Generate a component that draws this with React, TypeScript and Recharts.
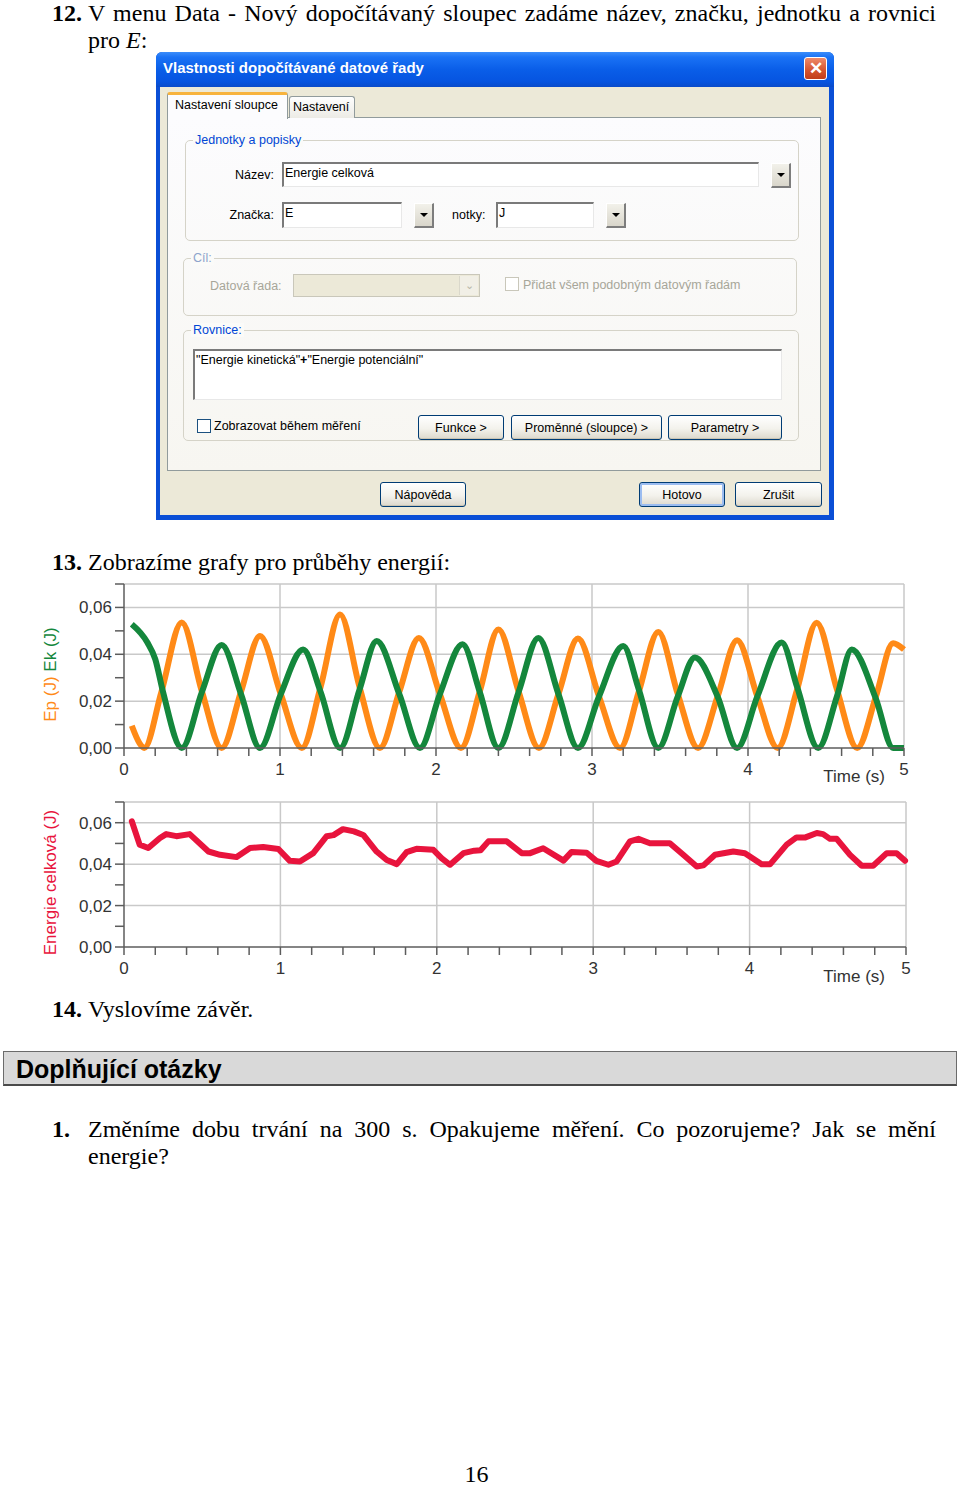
import React from 'react';
import { LineChart, Line, XAxis, YAxis, CartesianGrid } from 'recharts';

// ---------- Data ----------
const EP_TIME = [0.05,0.10,0.13,0.24,0.37,0.50,0.626,0.75,0.872,1.005,1.14,1.26,1.385,1.51,1.64,1.765,1.89,2.025,2.16,2.28,2.40,2.53,2.66,2.785,2.91,3.045,3.18,3.30,3.425,3.55,3.68,3.805,3.93,4.06,4.19,4.315,4.44,4.57,4.70,4.82,4.93,5.0];
const EP_VALUES = [0.0095,0.002,0.0,0.024,0.0536,0.024,0.0,0.024,0.0478,0.023,0.0,0.026,0.057,0.026,0.0,0.024,0.047,0.023,0.0,0.024,0.0506,0.024,0.0,0.023,0.0467,0.022,0.0,0.024,0.0495,0.023,0.0,0.022,0.046,0.022,0.0,0.025,0.0535,0.025,0.0,0.022,0.0447,0.042];

const EK_TIME = [0.05,0.15,0.20,0.25,0.37,0.50,0.626,0.75,0.872,1.005,1.148,1.26,1.385,1.51,1.62,1.765,1.897,2.025,2.17,2.28,2.40,2.53,2.656,2.785,2.91,3.045,3.20,3.30,3.425,3.55,3.66,3.805,3.93,4.06,4.216,4.315,4.45,4.57,4.665,4.82,4.93,5.0];
const EK_VALUES = [0.0528,0.045,0.038,0.024,0.0,0.024,0.044,0.023,0.0,0.023,0.042,0.024,0.0,0.025,0.0457,0.023,0.0,0.023,0.0443,0.024,0.0,0.024,0.047,0.023,0.0,0.022,0.0435,0.025,0.0,0.022,0.0386,0.022,0.0,0.022,0.045,0.026,0.0,0.022,0.042,0.021,0.0,0.0];

const TOTAL_TIME = [0.05,0.10,0.155,0.23,0.27,0.335,0.42,0.54,0.614,0.72,0.806,0.89,0.987,1.06,1.125,1.21,1.296,1.34,1.40,1.47,1.53,1.615,1.68,1.744,1.807,1.87,1.978,2.03,2.085,2.17,2.24,2.28,2.33,2.447,2.543,2.597,2.68,2.81,2.862,2.958,3.02,3.097,3.15,3.235,3.289,3.363,3.49,3.576,3.662,3.705,3.779,3.896,3.97,4.077,4.13,4.237,4.30,4.357,4.43,4.47,4.514,4.557,4.642,4.717,4.79,4.877,4.94,4.994];
const TOTAL_VALUES = [0.0607,0.0494,0.0478,0.0526,0.0545,0.0535,0.0545,0.0461,0.0445,0.0434,0.0478,0.0483,0.0473,0.0416,0.0413,0.0453,0.0535,0.054,0.0569,0.0558,0.0541,0.0461,0.042,0.040,0.0458,0.0474,0.0469,0.0429,0.0397,0.0453,0.0465,0.0467,0.051,0.051,0.0453,0.0453,0.0477,0.0417,0.0459,0.0455,0.0416,0.0397,0.0413,0.051,0.0522,0.0501,0.0501,0.0445,0.0389,0.0394,0.0445,0.0461,0.0453,0.0399,0.0399,0.0494,0.0529,0.0529,0.055,0.0545,0.0522,0.0522,0.0445,0.0392,0.0392,0.0453,0.0453,0.0416];

const X_TICKS = [0,0.2,0.4,0.6,0.8,1,1.2,1.4,1.6,1.8,2,2.2,2.4,2.6,2.8,3,3.2,3.4,3.6,3.8,4,4.2,4.4,4.6,4.8,5];
const X_LABELS = ['0','1','2','3','4','5'];
const Y_TICKS = [0,0.01,0.02,0.03,0.04,0.05,0.06,0.07];
const Y_LABELS = ['0,00','0,02','0,04','0,06'];
const GRID_Y = [0.02,0.04,0.06,0.07];
const GRID_X = [1,2,3,4,5];

const toSeries = (ts: number[], vs: number[]) =>
  ts.slice(0, Math.min(ts.length, vs.length)).map((t, i) => ({ t, v: vs[i] }));

const epData = toSeries(EP_TIME, EP_VALUES);
const ekData = toSeries(EK_TIME, EK_VALUES);
const totalData = toSeries(TOTAL_TIME, TOTAL_VALUES);

const ORANGE = '#ff8a17';
const GREEN = '#14873c';
const RED = '#e8143d';
const SANS = '"Liberation Sans", Arial, sans-serif';
const SERIF = '"Liberation Serif", "Times New Roman", serif';

const fmtX = (v: number) => {
  const r = Math.round(v * 1000) / 1000;
  return Number.isInteger(r) ? X_LABELS[r] : '';
};
const fmtY = (v: number) => {
  const k = Math.round(v * 100);
  return k % 2 === 0 && k <= 6 ? Y_LABELS[k / 2] : '';
};

const tickStyle = { fill: '#333', fontSize: 17, fontFamily: SANS };

const timeLabel = (dx: number, dy: number) => (props: any) => {
  const vb = props.viewBox || { x: 124, y: 178, width: 780, height: 30 };
  return (
    <text x={vb.x + vb.width - dx} y={vb.y + dy} textAnchor="end" fill="#333" fontSize={17} fontFamily={SANS}>
      Time (s)
    </text>
  );
};

const yLabel1 = (props: any) => {
  const vb = props.viewBox || { x: 64, y: 14, width: 60, height: 164 };
  const x = vb.x - 8;
  const y = vb.y + vb.height / 2 + 8.5;
  return (
    <text x={x} y={y} transform={`rotate(-90, ${x}, ${y})`} textAnchor="middle" fontSize={17} fontFamily={SANS}>
      <tspan fill={ORANGE}>Ep (J) </tspan>
      <tspan fill={GREEN}>Ek (J)</tspan>
    </text>
  );
};

const yLabel2 = (props: any) => {
  const vb = props.viewBox || { x: 64, y: 12, width: 60, height: 145 };
  const x = vb.x - 8;
  const y = vb.y + vb.height / 2 + 8;
  return (
    <text x={x} y={y} transform={`rotate(-90, ${x}, ${y})`} textAnchor="middle" fontSize={17} fontFamily={SANS} fill={RED}>
      Energie celková (J)
    </text>
  );
};

// ---------- Dialog helpers ----------
const abs = (l: number, t: number, w: number, h: number, extra: any = {}) => ({
  position: 'absolute' as const, left: l, top: t, width: w, height: h, boxSizing: 'border-box' as const, ...extra,
});

const Txt = ({ l, t, children, color = '#000', size = 12.5, right, w, bold }: any) => (
  <div style={{ position: 'absolute', left: l, top: t, width: w, textAlign: right ? 'right' : 'left', fontSize: size, lineHeight: '14px', color, whiteSpace: 'nowrap', fontFamily: SANS, fontWeight: bold ? 'bold' : 'normal' }}>
    {children}
  </div>
);

const Sunken = ({ l, t, w, h, children }: any) => (
  <div style={abs(l, t, w, h, { background: '#fff', borderTop: '2px solid #7a7a7a', borderLeft: '2px solid #7a7a7a', borderBottom: '1px solid #e8e8e8', borderRight: '1px solid #e8e8e8', fontFamily: SANS, fontSize: 12.5, lineHeight: '18px', paddingLeft: 1, whiteSpace: 'nowrap', overflow: 'hidden' })}>
    {children}
  </div>
);

const DropBtn = ({ l, t, w = 20, h = 25 }: any) => (
  <div style={abs(l, t, w, h, { background: 'linear-gradient(#f2f1ea, #d9d6cb)', borderTop: '1px solid #fff', borderLeft: '1px solid #fff', borderRight: '2px solid #7d7d7d', borderBottom: '2px solid #7d7d7d', display: 'flex', alignItems: 'center', justifyContent: 'center' })}>
    <div style={{ width: 0, height: 0, borderLeft: '4px solid transparent', borderRight: '4px solid transparent', borderTop: '4px solid #000' }} />
  </div>
);

const Btn = ({ l, t, w, h = 25, label, def }: any) => (
  <div style={abs(l, t, w, h, { border: '1px solid #003c74', borderRadius: 3, background: 'linear-gradient(#ffffff, #f3f2ec 55%, #dcd8cc)', display: 'flex', alignItems: 'center', justifyContent: 'center', fontFamily: SANS, fontSize: 12.5, color: '#000', boxShadow: def ? 'inset 0 0 0 2px #9bbcf0' : 'inset 0 -1px 0 #c9c4b4' })}>
    {label}
  </div>
);

const Check = ({ l, t, c = '#1c5180' }: any) => (
  <div style={abs(l, t, 14, 14, { border: `1px solid ${c}`, background: '#fff' })} />
);

const Group = ({ l, t, w, h, label, color = '#0046d5' }: any) => (
  <>
    <div style={abs(l, t, w, h, { border: '1px solid #d5d3c8', borderRadius: 5 })} />
    <div style={{ position: 'absolute', left: l + 8, top: t - 7, background: '#fbfbf9', padding: '0 2px', fontFamily: SANS, fontSize: 12.5, lineHeight: '14px', color }}>{label}</div>
  </>
);

const Dialog = () => (
  <>
    {/* frame */}
    <div style={abs(156, 52, 678, 468, { background: '#0a4fd6', borderRadius: '6px 6px 0 0' })} />
    <div style={abs(156, 52, 678, 35, { background: 'linear-gradient(#3b8dfa 0%, #1a72f5 15%, #0a5ee8 50%, #0654e0 85%, #0a4bc9 100%)', borderRadius: '6px 6px 0 0' })} />
    <Txt l={163} t={61} color="#fff" size={15} bold>Vlastnosti dopočítávané datové řady</Txt>
    <div style={abs(804, 57, 23, 23, { background: 'linear-gradient(#ee8a6a, #d4532d 60%, #c13d1a)', border: '1px solid #fff', borderRadius: 3, color: '#fff', fontFamily: SANS, fontSize: 17, fontWeight: 'bold', display: 'flex', alignItems: 'center', justifyContent: 'center', lineHeight: '17px' })}>✕</div>
    <div style={abs(160, 87, 669, 428, { background: '#ece9d8' })} />
    {/* tabs */}
    <div style={abs(167, 117, 654, 354, { background: 'linear-gradient(#fcfcfe, #f7f6f1)', border: '1px solid #919b9c' })} />
    <div style={abs(289, 96, 66, 22, { background: 'linear-gradient(#fefefe, #ecebe5)', border: '1px solid #919b9c', borderBottom: 'none', borderRadius: '3px 3px 0 0' })} />
    <Txt l={293} t={100}>Nastavení</Txt>
    <div style={abs(167, 92, 121, 27, { background: '#fcfcfe', border: '1px solid #919b9c', borderBottom: 'none', borderTop: '3px solid #f7b33d', borderRadius: '3px 3px 0 0' })} />
    <Txt l={175} t={98}>Nastavení sloupce</Txt>

    {/* group 1 */}
    <Group l={185} t={140} w={614} h={101} label="Jednotky a popisky" />
    <Txt l={194} t={168} w={80} right>Název:</Txt>
    <Sunken l={282} t={162} w={477} h={25}>Energie celková</Sunken>
    <DropBtn l={771} t={163} />
    <Txt l={194} t={208} w={80} right>Značka:</Txt>
    <Sunken l={282} t={202} w={120} h={26}>E</Sunken>
    <DropBtn l={414} t={203} />
    <Txt l={452} t={208}>notky:</Txt>
    <Sunken l={496} t={202} w={98} h={26}>J</Sunken>
    <DropBtn l={606} t={203} />

    {/* group 2 */}
    <Group l={183} t={258} w={614} h={58} label="Cíl:" color="#8ea4cc" />
    <Txt l={210} t={279} color="#a7a699">Datová řada:</Txt>
    <div style={abs(293, 274, 187, 23, { background: '#ece9d8', border: '1px solid #c9c7ba' })} />
    <div style={abs(459, 276, 19, 19, { background: '#f1efe6', borderLeft: '1px solid #dad8cb', color: '#b8b6a8', fontSize: 11, display: 'flex', alignItems: 'center', justifyContent: 'center', fontFamily: SANS })}>⌄</div>
    <Check l={505} t={277} c="#c9c7ba" />
    <Txt l={523} t={278} color="#a7a699">Přidat všem podobným datovým řadám</Txt>

    {/* group 3 */}
    <Group l={183} t={330} w={616} h={111} label="Rovnice:" />
    <Sunken l={193} t={349} w={589} h={51}>"Energie kinetická"<b>+</b>"Energie potenciální"</Sunken>
    <Check l={197} t={419} />
    <Txt l={214} t={419}>Zobrazovat během měření</Txt>
    <Btn l={418} t={415} w={86} label="Funkce >" />
    <Btn l={511} t={415} w={151} label="Proměnné (sloupce) >" />
    <Btn l={668} t={415} w={114} label="Parametry >" />

    {/* bottom buttons */}
    <Btn l={380} t={482} w={86} label="Nápověda" />
    <Btn l={639} t={482} w={86} label="Hotovo" def />
    <Btn l={735} t={482} w={87} label="Zrušit" />
  </>
);

const serifLine = (top: number, extra: any = {}) => ({
  position: 'absolute' as const, top, fontFamily: SERIF, fontSize: 24, lineHeight: '27px', color: '#000', whiteSpace: 'nowrap' as const, ...extra,
});

export default function App() {
  return (
    <div style={{ position: 'absolute', left: 0, top: 0, width: 960, height: 1487, background: '#fff', overflow: 'hidden' }}>
      {/* step 12 */}
      <div style={serifLine(0, { left: 52, fontWeight: 'bold' })}>12.</div>
      <div style={serifLine(0, { left: 88, width: 848, textAlign: 'justify', textAlignLast: 'justify', whiteSpace: 'normal' })}>
        V menu Data - Nový dopočítávaný sloupec zadáme název, značku, jednotku a rovnici
      </div>
      <div style={serifLine(27, { left: 88 })}>pro <i>E</i>:</div>

      <Dialog />

      {/* step 13 */}
      <div style={serifLine(549, { left: 52, fontWeight: 'bold' })}>13.</div>
      <div style={serifLine(549, { left: 88 })}>Zobrazíme grafy pro průběhy energií:</div>

      {/* chart 1 */}
      <div style={{ position: 'absolute', left: 0, top: 570 }}>
        <LineChart width={960} height={220} margin={{ top: 14, right: 56, bottom: 12, left: 64 }}>
          <CartesianGrid stroke="#c9c9c9" strokeWidth={1.5} horizontalValues={GRID_Y} verticalValues={GRID_X} />
          <XAxis type="number" dataKey="t" domain={[0, 5]} ticks={X_TICKS} interval={0} tickFormatter={fmtX}
            tickSize={8} tickMargin={7} stroke="#5c5c5c" strokeWidth={1.5} tick={tickStyle} height={30}
            label={{ content: timeLabel(19, 34) } as any} />
          <YAxis type="number" domain={[0, 0.07]} ticks={Y_TICKS} interval={0} tickFormatter={fmtY}
            width={60} tickSize={9} tickMargin={3} stroke="#5c5c5c" strokeWidth={1.5} tick={tickStyle}
            label={{ content: yLabel1 } as any} />
          <Line data={epData} dataKey="v" type="monotone" stroke={ORANGE} strokeWidth={6} dot={false} isAnimationActive={false} strokeLinejoin="round" />
          <Line data={ekData} dataKey="v" type="monotone" stroke={GREEN} strokeWidth={6} dot={false} isAnimationActive={false} strokeLinejoin="round" />
        </LineChart>
      </div>

      {/* chart 2 */}
      <div style={{ position: 'absolute', left: 0, top: 790 }}>
        <LineChart width={960} height={200} margin={{ top: 12, right: 54, bottom: 13, left: 64 }}>
          <CartesianGrid stroke="#c9c9c9" strokeWidth={1.5} horizontalValues={GRID_Y} verticalValues={GRID_X} />
          <XAxis type="number" dataKey="t" domain={[0, 5]} ticks={X_TICKS} interval={0} tickFormatter={fmtX}
            tickSize={8} tickMargin={7} stroke="#5c5c5c" strokeWidth={1.5} tick={tickStyle} height={30}
            label={{ content: timeLabel(21, 35) } as any} />
          <YAxis type="number" domain={[0, 0.07]} ticks={Y_TICKS} interval={0} tickFormatter={fmtY}
            width={60} tickSize={9} tickMargin={3} stroke="#5c5c5c" strokeWidth={1.5} tick={tickStyle}
            label={{ content: yLabel2 } as any} />
          <Line data={totalData} dataKey="v" type="linear" stroke={RED} strokeWidth={6} dot={false} isAnimationActive={false} strokeLinejoin="round" strokeLinecap="round" />
        </LineChart>
      </div>

      {/* step 14 */}
      <div style={serifLine(996, { left: 52, fontWeight: 'bold' })}>14.</div>
      <div style={serifLine(996, { left: 88 })}>Vyslovíme závěr.</div>

      {/* heading */}
      <div style={{ position: 'absolute', left: 3, top: 1051, width: 954, height: 35, boxSizing: 'border-box', background: '#d9d9d9', border: '1px solid #6b6b6b', borderBottom: '2px solid #4a4a4a' }} />
      <div style={{ position: 'absolute', left: 16, top: 1054, fontFamily: SANS, fontWeight: 'bold', fontSize: 25, lineHeight: '30px', color: '#000', whiteSpace: 'nowrap' }}>Doplňující otázky</div>

      {/* question 1 */}
      <div style={serifLine(1116, { left: 52, fontWeight: 'bold' })}>1.</div>
      <div style={serifLine(1116, { left: 88, width: 848, textAlign: 'justify', textAlignLast: 'justify', whiteSpace: 'normal' })}>
        Změníme dobu trvání na 300 s. Opakujeme měření. Co pozorujeme? Jak se mění
      </div>
      <div style={serifLine(1143, { left: 88 })}>energie?</div>

      {/* page number */}
      <div style={serifLine(1464, { left: 464, width: 25, textAlign: 'center', lineHeight: '21px' })}>16</div>
    </div>
  );
}
